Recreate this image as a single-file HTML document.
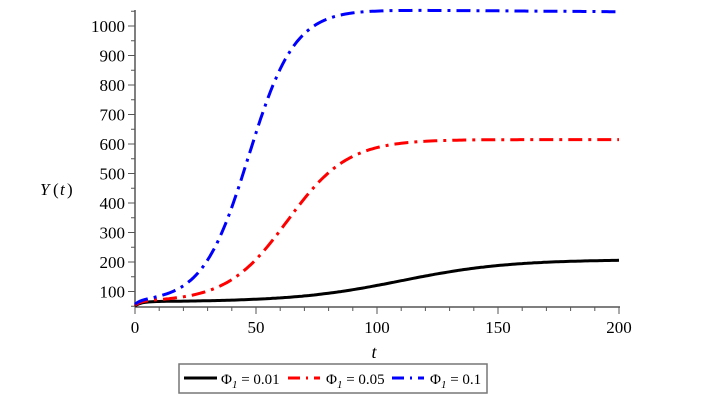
<!DOCTYPE html>
<html><head><style>
body{margin:0;background:#fff;width:724px;height:405px;overflow:hidden;font-family:'Liberation Serif','DejaVu Serif','Times New Roman',serif}
svg text{font-family:'Liberation Serif','DejaVu Serif','Times New Roman',serif !important;fill:#000}
</style></head><body>
<svg id="s" width="724" height="405" xmlns="http://www.w3.org/2000/svg" style="font-family:'Liberation Serif','DejaVu Serif',serif">
<g stroke="#555" stroke-width="1.5" fill="none">
<line x1="135" y1="10" x2="135" y2="307"/>
<line x1="135" y1="307" x2="620" y2="307"/>
</g>
<g id="ticks" stroke="#555" stroke-width="1"></g>
<g font-size="17" text-anchor="end" id="yl"></g>
<g font-size="17" text-anchor="middle" id="xl"></g>
<text x="40" y="195" font-size="17" font-style="italic">Y</text>
<text x="53" y="195" font-size="17">(</text>
<text x="60" y="195" font-size="17" font-style="italic">t</text>
<text x="67" y="195" font-size="17">)</text>
<text x="374" y="358" font-size="18" font-style="italic" text-anchor="middle">t</text>
<path id="pk" fill="none" stroke="#000" stroke-width="3"/>
<path id="pr" fill="none" stroke="#f00" stroke-width="3" stroke-dasharray="14,6,3,6"/>
<path id="pb" fill="none" stroke="#00f" stroke-width="3" stroke-dasharray="14,6,3,6"/>
<rect x="179" y="364" width="308" height="29" fill="#fff" stroke="#777" stroke-width="1.5"/>
<line x1="184" y1="378" x2="217" y2="378" stroke="#000" stroke-width="3"/>
<text x="221" y="384" font-size="15">Φ<tspan font-size="11" font-style="italic" dy="4">1</tspan><tspan dy="-4"> = 0.01</tspan></text>
<line x1="288" y1="378" x2="320" y2="378" stroke="#f00" stroke-width="3" stroke-dasharray="12,6,2,6"/>
<text x="326" y="384" font-size="15">Φ<tspan font-size="11" font-style="italic" dy="4">1</tspan><tspan dy="-4"> = 0.05</tspan></text>
<line x1="392" y1="378" x2="424" y2="378" stroke="#00f" stroke-width="3" stroke-dasharray="12,6,2,6"/>
<text x="430" y="384" font-size="15">Φ<tspan font-size="11" font-style="italic" dy="4">1</tspan><tspan dy="-4"> = 0.1</tspan></text>
</svg>
<script>
var X=t=>135+t*2.42, Y=v=>26+(1000-v)*0.295;
var tk=document.getElementById('ticks'),yl=document.getElementById('yl'),xl=document.getElementById('xl'),ns='http://www.w3.org/2000/svg';
function L(g,a){var e=document.createElementNS(ns,'line');for(var k in a)e.setAttribute(k,a[k]);g.appendChild(e);}
function T(g,x,y,s){var e=document.createElementNS(ns,'text');e.setAttribute('x',x);e.setAttribute('y',y);e.textContent=s;g.appendChild(e);}
for(var v=50;v<=1050;v+=50){var y=Y(v);L(tk,{x1:v%100?131:128,x2:135,y1:y,y2:y});if(v%100==0)T(yl,125,y+6,v);}
for(var t=0;t<=200;t+=10){var x=X(t);L(tk,{x1:x,x2:x,y1:307,y2:t%50?311:314});if(t%50==0)T(xl,x,333,t);}
function P(f){var d='';for(var t=0;t<=200;t+=1)d+=(t?'L':'M')+X(t).toFixed(1)+','+Y(f(t)).toFixed(1);return d;}
var h=t=>15*(1-Math.exp(-t/2.5));
document.getElementById('pk').setAttribute('d',P(t=>50+h(t)+143/(1+Math.exp(-(t-110)/22))));
document.getElementById('pr').setAttribute('d',P(t=>50+h(t)+550/(1+Math.exp(-(t-63)/12.5))));
document.getElementById('pb').setAttribute('d',P(t=>50+h(t)+990/(1+Math.exp(-(t-47)/9.5))-(t>90?0.06*(t-90):0)));
</script>
</body></html>
